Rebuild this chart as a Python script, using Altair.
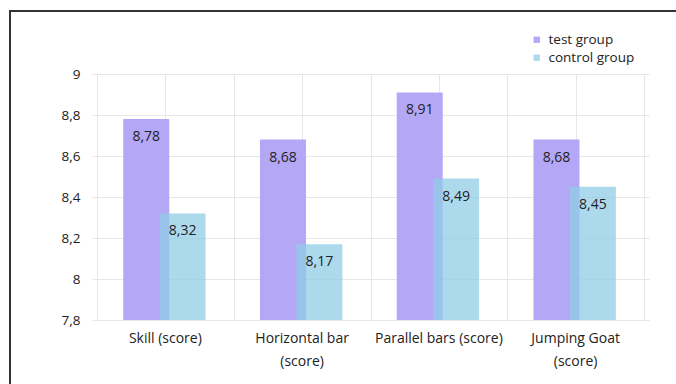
import altair as alt
import pandas as pd

categories = ["Skill (score)", "Horizontal bar\n(score)", "Parallel bars (score)", "Jumping Goat\n(score)"]
groups = ["test group", "control group"]
test_values = [8.78, 8.68, 8.91, 8.68]
control_values = [8.32, 8.17, 8.49, 8.45]
y_ticks = [7.8, 8.0, 8.2, 8.4, 8.6, 8.8, 9.0]

FONT = "Open Sans"
W, H = 557, 246

rows = []
for i, v in enumerate(test_values):
    rows.append({"idx": i, "group": groups[0], "value": v, "label": f"{v:.2f}".replace(".", ",")})
for i, v in enumerate(control_values):
    rows.append({"idx": i, "group": groups[1], "value": v, "label": f"{v:.2f}".replace(".", ",")})
df = pd.DataFrame(rows)
cat_df = pd.DataFrame({"idx": range(len(categories)), "cat": categories})

base = alt.Chart(df).transform_calculate(
    pos="datum.idx + 0.5 + (datum.group == 'test group' ? -0.14 : 0.126)"
)

x_scale = alt.Scale(domain=[0, 4], nice=False, zero=False)
y_scale = alt.Scale(domain=[7.8, 9.0], nice=False, zero=False)

legend = alt.Legend(orient="none", legendX=438, legendY=-41, title=None,
                    symbolType="square", symbolSize=40, symbolStrokeWidth=0,
                    labelFont=FONT, labelFontSize=13.5, labelColor="#222222",
                    labelOffset=5, rowPadding=3, padding=0)

bars = base.mark_bar(size=46).encode(
    x=alt.X("pos:Q", scale=x_scale,
            axis=alt.Axis(values=[0, 0.5, 1, 1.5, 2, 2.5, 3, 3.5, 4], grid=True, gridColor="#E6E6E6",
                          labels=False, ticks=False, domain=False, title=None)),
    y=alt.Y("value:Q", scale=y_scale,
            axis=alt.Axis(values=y_ticks, grid=True, gridColor="#E6E6E6", domain=False, ticks=False,
                          labelPadding=12, labelFont=FONT, labelFontSize=13.5, labelColor="#222222",
                          labelExpr="replace(format(datum.value, '.2~f'), '.', ',')", title=None)),
    y2=alt.datum(7.8),
    color=alt.Color("group:N", scale=alt.Scale(domain=groups, range=["#B4A7F6", "#92CCE7"]),
                    legend=legend),
    opacity=alt.Opacity("group:N", scale=alt.Scale(domain=groups, range=[1.0, 0.75]),
                        legend=legend),
    order=alt.Order("idx:Q"),
)

labels = base.mark_text(dy=18, font=FONT, fontSize=14, color="#222222", baseline="middle").encode(
    x=alt.X("pos:Q", scale=x_scale),
    y=alt.Y("value:Q", scale=y_scale),
    text="label:N",
)

cat_labels = alt.Chart(cat_df).transform_calculate(
    cpos="datum.idx + 0.5"
).mark_text(font=FONT, fontSize=14, color="#222222", baseline="top", lineBreak="\n", lineHeight=23).encode(
    x=alt.X("cpos:Q", scale=x_scale),
    y=alt.value(H + 12),
    text="cat:N",
)

one = pd.DataFrame({"a": [0]})
frame_top = alt.Chart(one).mark_rule(color="#333333", strokeWidth=2).encode(
    x=alt.value(-82), x2=alt.value(590), y=alt.value(-63)
)
frame_left = alt.Chart(one).mark_rule(color="#333333", strokeWidth=2).encode(
    x=alt.value(-82), y=alt.value(-64), y2=alt.value(320)
)

chart = alt.layer(bars, labels, cat_labels, frame_top, frame_left).properties(
    width=W, height=H,
    autosize=alt.AutoSizeParams(type="none"),
    padding={"left": 92, "top": 74, "right": 27, "bottom": 64},
    background="white",
).configure_view(strokeWidth=0)

chart.save("out.html", embed_options={"renderer": "svg", "actions": False})
